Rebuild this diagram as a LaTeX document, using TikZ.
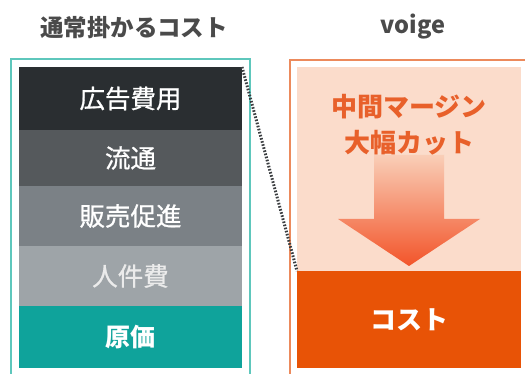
\documentclass[tikz,border=0pt]{standalone}
\usepackage{fontspec}
\newfontfamily\jp{Noto Sans CJK JP}
\newfontfamily\jpm[FakeBold=0.8]{Noto Sans CJK JP}
\usetikzlibrary{calc}
\definecolor{cAd}{HTML}{2A2E31}
\definecolor{cDist}{HTML}{55595C}
\definecolor{cSales}{HTML}{7B8186}
\definecolor{cStaff}{HTML}{9EA4A8}
\definecolor{cCost}{HTML}{0FA39B}
\definecolor{cTealLine}{HTML}{5EC7BC}
\definecolor{cOrLine}{HTML}{EC8A5C}
\definecolor{cPeach}{HTML}{FBDCCB}
\definecolor{cOrange}{HTML}{E85306}
\definecolor{cOrText}{HTML}{E8602A}
\definecolor{cTitle}{HTML}{4A4A4A}
\definecolor{cDots}{HTML}{3A3D40}
\tikzset{
  stack/.style={anchor=north west, minimum width=223pt, inner sep=0pt, outer sep=0pt, text=white, font=\jpm\fontsize{25.5}{28}\selectfont},
  title/.style={text=cTitle, font=\jp\bfseries\fontsize{23.5}{26}\selectfont, inner sep=0pt},
  frame/.style={line width=2pt},
  dotline/.style={cDots, line width=3pt, dash pattern=on 1.6pt off 1.6pt},
}
\begin{document}
\begin{tikzpicture}[x=1pt,y=-1pt]
\useasboundingbox (0,0) rectangle (525,374);
% titles
\node[title] (t1) at (134,28) {通常掛かるコスト};
\node[title] (t2) at (413,27) {voige};
% left frame
\draw[frame, cTealLine] (11,376) -- (11,59) -- (250,59) -- (250,376);
% stacked boxes
\node[stack, fill=cAd, minimum height=63pt] (ad) at (19,67) {広告費用};
\node[stack, fill=cDist, minimum height=56pt] (dist) at (19,130) {流通};
\node[stack, fill=cSales, minimum height=60pt] (sales) at (19,186) {販売促進};
\node[stack, fill=cStaff, minimum height=60pt, text=white!92!black] (staff) at (19,246) {人件費};
\node[stack, fill=cCost, minimum height=62pt, font=\jp\bfseries\fontsize{25}{28}\selectfont] (orig) at (19,306) {原価};
% right frame
\draw[frame, cOrLine] (290,376) -- (290,60) -- (527,60);
\node[anchor=north west, fill=cPeach, minimum width=224pt, minimum height=204pt, inner sep=0pt] (peach) at (297,67) {};
\node[anchor=north west, fill=cOrange, minimum width=224pt, minimum height=97pt, inner sep=0pt, text=white, font=\jp\bfseries\fontsize{26}{28}\selectfont] (cost) at (297,271) {コスト};
% arrow
\shade[top color=cPeach!90!cOrange, bottom color=red!35!cOrange!85!white]
  (374,155) -- (444,155) -- (444,219) -- (480,219) -- (409,266) -- (338,219) -- (374,219) -- cycle;
% caption
\node[text=cOrText, font=\jp\bfseries\fontsize{26}{36}\selectfont, align=center, inner sep=0pt] (cut) at (409,125) {中間マージン\\大幅カット};
% dotted connector
\draw[dotline] (ad.north east) -- (cost.north west);
\end{tikzpicture}
\end{document}
